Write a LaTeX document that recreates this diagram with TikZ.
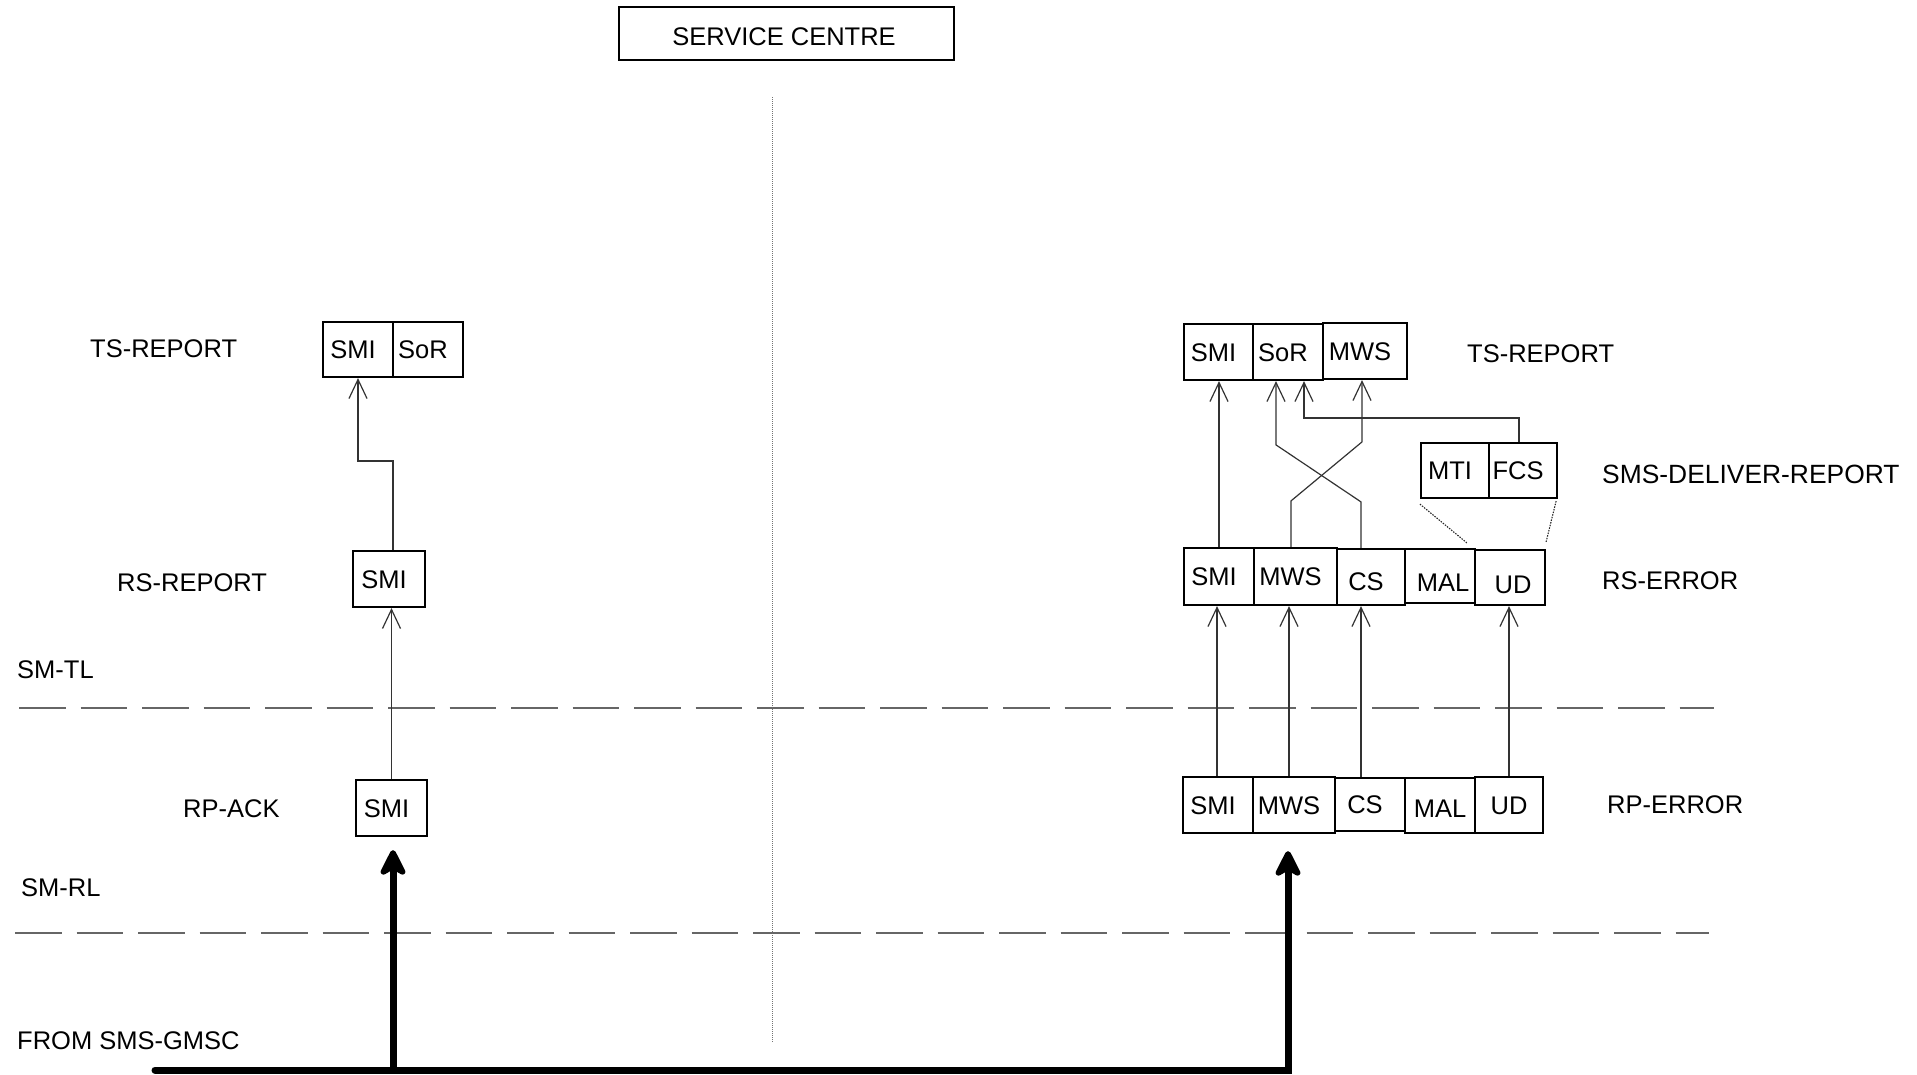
\documentclass[tikz,border=0pt]{standalone}
\usepackage{fontspec}
\setmainfont{Liberation Sans}
\usetikzlibrary{arrows.meta,calc}
\newcommand\lsh[1]{\hspace*{-10pt}#1}
\newcommand\rsh[1]{\hspace*{6pt}#1}
\begin{document}
\begin{tikzpicture}[x=1pt,y=-1pt,
  every node/.style={font=\fontsize{25.5}{30}\selectfont},
  fld/.style={draw=black,line width=2.2pt,inner sep=0pt,text height=18.3pt,text depth=0pt},
  lbl/.style={anchor=west,inner sep=0pt,text height=18.3pt,text depth=0pt},
  thinarrow/.style={line width=1.2pt,draw=black!80,-{Straight Barb[length=19pt,width=18pt]}},
  bigarrow/.style={line width=7pt,line cap=round,-{Stealth[length=32pt,width=32pt,inset=9pt,round]}},
  layer/.style={line width=1.5pt,draw=black!60,dash pattern=on 46.5pt off 15pt},
  dotline/.style={line width=1.1pt,draw=black!85,dash pattern=on 1.5pt off 1.2pt}]
\useasboundingbox (0,0) rectangle (1917,1074);

% title
\node[draw=black,line width=1.3pt,inner sep=0pt,minimum width=335pt,minimum height=53pt,text height=18.3pt,text depth=0pt] (sc) at (786.5,33.5) {\raisebox{-2.5pt}{\hspace*{-5pt}SERVICE CENTRE}};
\draw[dotline,draw=black!55,line width=1pt,dash pattern=on 1pt off 1pt] (772,97) -- (772,1042);

% layer lines
\draw[layer] (19,708) -- (1714,708);
\draw[layer] (15,933) -- (1709,933);

% labels
\node[lbl] (lts)  at (90,348)   {TS-REPORT};
\node[lbl] (lrs)  at (117,582)  {RS-REPORT};
\node[lbl] (smtl) at (17,669)   {SM-TL};
\node[lbl] (lrp)  at (183,808)  {RP-ACK};
\node[lbl] (smrl) at (21,887)   {SM-RL};
\node[lbl] (from) at (17,1040)  {FROM SMS-GMSC};
\node[lbl] (rts)  at (1467,353) {TS-REPORT};
\node[lbl,font=\fontsize{26.4}{31}\selectfont] (sdr) at (1602,474) {SMS-DELIVER-REPORT};
\node[lbl] (rse)  at (1602,580) {RS-ERROR};
\node[lbl] (rpe)  at (1607,804) {RP-ERROR};

% left boxes
\node[fld,minimum width=70pt,minimum height=55pt] (tsSMI) at (358,349.5) {\lsh{SMI}};
\node[fld,minimum width=70pt,minimum height=55pt] (tsSoR) at (428,349.5) {\lsh{SoR}};
\node[fld,minimum width=72pt,minimum height=56pt] (rsSMI) at (389,579) {\lsh{SMI}};
\node[fld,minimum width=71pt,minimum height=56pt] (rpSMI) at (391.5,808) {\lsh{SMI}};

% right TS-REPORT
\node[fld,minimum width=69pt,minimum height=56pt] (tsrSMI) at (1218.5,352) {\lsh{SMI}};
\node[fld,minimum width=70pt,minimum height=56pt] (tsrSoR) at (1288,352) {\lsh{SoR}};
\node[fld,minimum width=84pt,minimum height=56pt] (tsrMWS) at (1365,351) {\lsh{MWS}};
% SMS-DELIVER-REPORT
\node[fld,minimum width=68pt,minimum height=55pt] (MTI) at (1455,470.5) {\lsh{MTI}};
\node[fld,minimum width=68pt,minimum height=55pt] (FCS) at (1523,470.5) {\lsh{FCS}};
% RS-ERROR
\node[fld,minimum width=70pt,minimum height=57pt] (reSMI) at (1219,576.5) {\lsh{SMI}};
\node[fld,minimum width=83pt,minimum height=57pt] (reMWS) at (1295.5,576.5) {\lsh{MWS}};
\node[fld,minimum width=68pt,minimum height=56pt] (reCS)  at (1371,577) {\raisebox{-4pt}{\lsh{CS}}};
\node[fld,minimum width=70pt,minimum height=54pt] (reMAL) at (1440,576) {\raisebox{-6pt}{\rsh{MAL}}};
\node[fld,minimum width=70pt,minimum height=55pt] (reUD)  at (1510,577.5) {\raisebox{-7pt}{\rsh{UD}}};
% RP-ERROR
\node[fld,minimum width=70pt,minimum height=56pt] (peSMI) at (1218,805) {\lsh{SMI}};
\node[fld,minimum width=82pt,minimum height=56pt] (peMWS) at (1294,805) {\lsh{MWS}};
\node[fld,minimum width=70pt,minimum height=53pt] (peCS)  at (1370,804.5) {\lsh{CS}};
\node[fld,minimum width=70pt,minimum height=55pt] (peMAL) at (1440,805.5) {\raisebox{-3pt}{MAL}};
\node[fld,minimum width=68pt,minimum height=56pt] (peUD)  at (1509,805) {UD};

% left connectors
\draw[thinarrow] (rpSMI.north) -- (rpSMI.north |- rsSMI.south);
\draw[thinarrow] ([xshift=4pt]rsSMI.north) -- ++(0,-89) -| (tsSMI.south);

% right connectors
\draw[thinarrow] (reSMI.north) -- (reSMI.north |- tsrSMI.south);
\draw[thinarrow] ([xshift=-10pt]reCS.north) -- ++(0,-46) -- ++(-85,-57) -- ([xshift=-12pt]tsrSoR.south);
\draw[thinarrow] ([xshift=-4.5pt]reMWS.north) -- ++(0,-46) -- ++(71,-59) -- ([xshift=-3pt]tsrMWS.south);
\draw[thinarrow] ([xshift=-4pt]FCS.north) -- ++(0,-24) -| ([xshift=16pt]tsrSoR.south);

\draw[thinarrow] ([xshift=-1pt]peSMI.north) -- ([xshift=-1pt]peSMI.north |- reSMI.south);
\draw[thinarrow] ([xshift=-5pt]peMWS.north) -- ([xshift=-5pt]peMWS.north |- reMWS.south);
\draw[thinarrow] ([xshift=-9pt]peCS.north) -- ([xshift=-9pt]peCS.north |- reCS.south);
\draw[thinarrow] (peUD.north) -- (peUD.north |- reUD.south);

% dotted expansion lines
\draw[dotline] ([yshift=-5pt]MTI.south west) -- ([xshift=-7pt,yshift=6pt]reUD.north west);
\draw[dotline] ([xshift=-2pt,yshift=-2pt]FCS.south east) -- ([yshift=7pt]reUD.north east);

% thick arrows from SMS-GMSC
\coordinate (gmsc) at (155,1070);
\draw[bigarrow,shorten >=17pt] (gmsc) -| ([xshift=-6pt]peMWS.south);
\draw[bigarrow,shorten >=13pt] ([xshift=1.5pt]rpSMI.south |- gmsc) -- ([xshift=1.5pt]rpSMI.south);
\end{tikzpicture}
\end{document}
